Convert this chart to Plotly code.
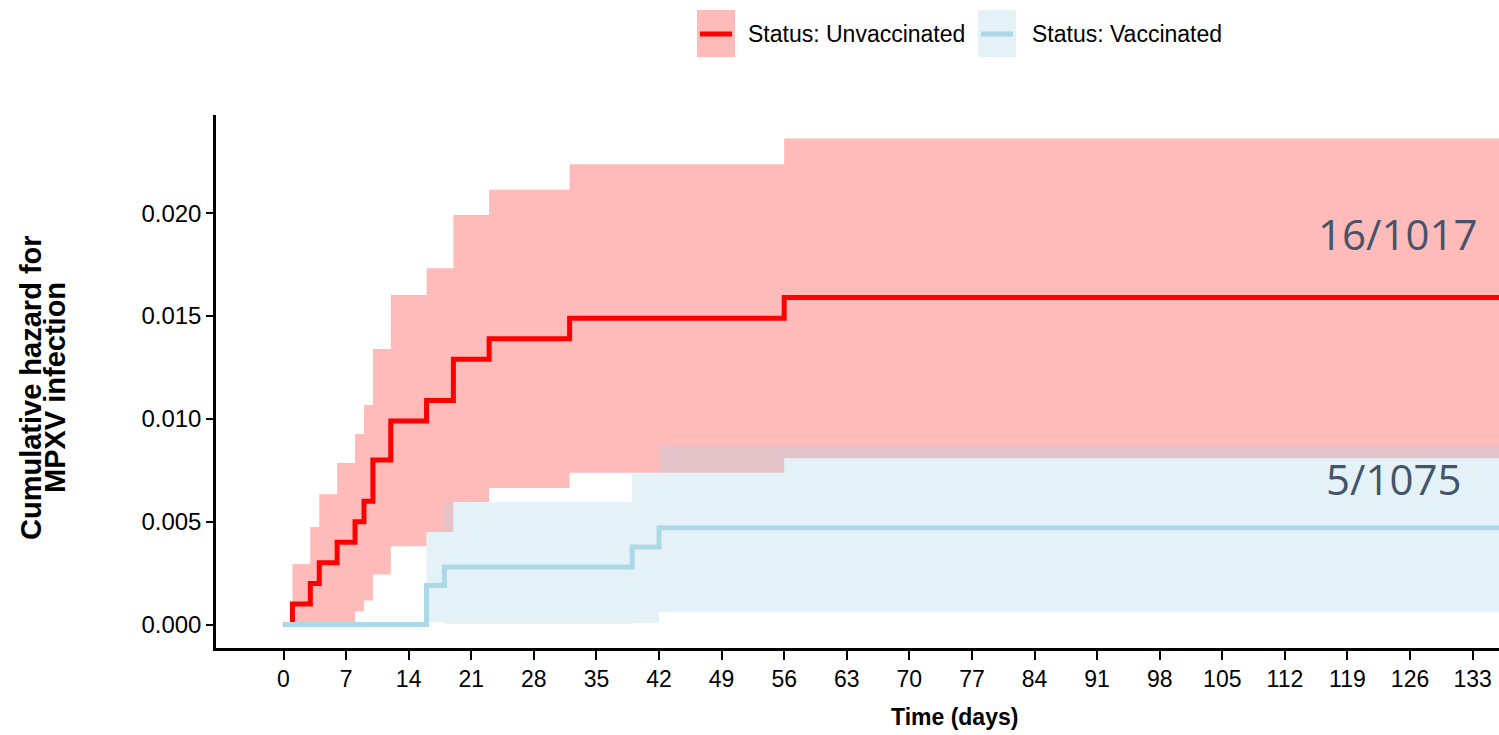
import plotly.graph_objects as go

# ---------------- data ----------------
unvac_time = [0, 1, 3, 4, 6, 8, 9, 10, 12, 16, 19, 23, 32, 56, 137]
unvac_haz = [0, 0.0010, 0.0020, 0.0030, 0.0040, 0.0050, 0.0060, 0.0080, 0.0099,
             0.0109, 0.0129, 0.0139, 0.0149, 0.0159, 0.0159]
unvac_upper = [0, 0.00294, 0.00474, 0.00633, 0.00785, 0.00927, 0.01068, 0.0134,
               0.01603, 0.01733, 0.01992, 0.02115, 0.02238, 0.02364, 0.02364]
unvac_lower = [0, 0.00003, 0.00003, 0.00004, 0.0001, 0.00065, 0.00117, 0.00243,
               0.0038, 0.0045, 0.00596, 0.00664, 0.00738, 0.00809, 0.00809]

vac_time = [0, 16, 18, 39, 42, 137]
vac_haz = [0, 0.0019, 0.0028, 0.00377, 0.0047, 0.0047]
vac_upper = [0, 0.0045, 0.00595, 0.00734, 0.00873, 0.00873]
vac_lower = [0, 0.00012, 0.00002, 0.00006, 0.0006, 0.0006]

x_ticks = list(range(0, 134, 7))
y_ticks = [0, 0.005, 0.010, 0.015, 0.020]
y_tick_labels = ["0.000", "0.005", "0.010", "0.015", "0.020"]

group_names = ["Status: Unvaccinated", "Status: Vaccinated"]
count_labels = ["16/1017", "5/1075"]

# ---------------- style ----------------
RED = "#FF0000"
RED_FILL = "rgba(255,0,0,0.27)"
BLUE = "#ADD8E6"
BLUE_FILL = "rgba(173,216,230,0.33)"
FONT = "Liberation Sans, Arial"
W, H = 1499, 735
L, R, T, B = 216, 0, 115, 87


def px(x):
    return (x - L) / (W - L - R)


def py(y):
    return (H - B - y) / (H - T - B)


fig = go.Figure()

# confidence bands
for t, lo, hi, fillc in [(unvac_time, unvac_lower, unvac_upper, RED_FILL),
                         (vac_time, vac_lower, vac_upper, BLUE_FILL)]:
    fig.add_trace(go.Scatter(x=t, y=lo, mode="lines", line=dict(width=0, shape="hv"),
                             showlegend=False, hoverinfo="skip"))
    fig.add_trace(go.Scatter(x=t, y=hi, mode="lines", line=dict(width=0, shape="hv"),
                             fill="tonexty", fillcolor=fillc, showlegend=False,
                             hoverinfo="skip"))

# step lines
fig.add_trace(go.Scatter(x=unvac_time, y=unvac_haz, mode="lines",
                         line=dict(color=RED, width=5, shape="hv"),
                         name=group_names[0], showlegend=False))
fig.add_trace(go.Scatter(x=vac_time, y=vac_haz, mode="lines",
                         line=dict(color=BLUE, width=5, shape="hv"),
                         name=group_names[1], showlegend=False))

shapes = []
annotations = []

# custom legend (ggplot-style keys: filled box with line)
for (x0, x1, fillc, linec, tx, label) in [
        (697, 735, RED_FILL, RED, 746, group_names[0]),
        (978, 1016, BLUE_FILL, BLUE, 1030, group_names[1])]:
    shapes.append(dict(type="rect", xref="paper", yref="paper",
                       x0=px(x0), x1=px(x1), y0=py(57), y1=py(10),
                       fillcolor=fillc, line=dict(width=0)))
    shapes.append(dict(type="line", xref="paper", yref="paper",
                       x0=px(x0 + 3), x1=px(x1 - 3), y0=py(34), y1=py(34),
                       line=dict(color=linec, width=5)))
    annotations.append(dict(text=label, xref="paper", yref="paper",
                            x=px(tx), y=py(34), xanchor="left", yanchor="middle",
                            showarrow=False,
                            font=dict(family=FONT, size=23, color="black")))

# y-axis title (two lines, rotated)
annotations.append(dict(text="<b>Cumulative hazard for</b>", xref="paper", yref="paper",
                        x=px(31), y=py(388), textangle=-90, showarrow=False,
                        xanchor="center", yanchor="middle",
                        font=dict(family=FONT, size=29, color="black")))
annotations.append(dict(text="<b>MPXV infection</b>", xref="paper", yref="paper",
                        x=px(55), y=py(388), textangle=-90, showarrow=False,
                        xanchor="center", yanchor="middle",
                        font=dict(family=FONT, size=29, color="black")))

# x-axis title (centred as in the reference, whose panel is cropped on the right)
annotations.append(dict(text="<b>Time (days)</b>", xref="paper", yref="paper",
                        x=px(954), y=py(717), showarrow=False,
                        xanchor="center", yanchor="middle",
                        font=dict(family=FONT, size=23, color="black")))

# count labels
annotations.append(dict(text=count_labels[0], x=124.6, y=0.0190, showarrow=False,
                        font=dict(family="Open Sans", size=42, color="#44546A")))
annotations.append(dict(text=count_labels[1], x=124.2, y=0.0071, showarrow=False,
                        font=dict(family="Open Sans", size=42, color="#44546A")))

fig.update_layout(
    width=W, height=H,
    margin=dict(l=L, r=R, t=T, b=B),
    plot_bgcolor="white", paper_bgcolor="white",
    showlegend=False,
    shapes=shapes, annotations=annotations,
    xaxis=dict(range=[-7.55, 135.95], tickvals=x_ticks, showgrid=False, zeroline=False,
               showline=True, linecolor="black", linewidth=2.5,
               ticks="outside", ticklen=9, tickwidth=2, tickcolor="black",
               tickfont=dict(family=FONT, size=23, color="black")),
    yaxis=dict(range=[-0.001143, 0.02478], tickvals=y_ticks, ticktext=y_tick_labels,
               showgrid=False, zeroline=False,
               showline=True, linecolor="black", linewidth=2.5,
               ticks="outside", ticklen=7, tickwidth=2, tickcolor="black",
               tickfont=dict(family=FONT, size=24, color="black")),
)

fig.write_html("out.html")
